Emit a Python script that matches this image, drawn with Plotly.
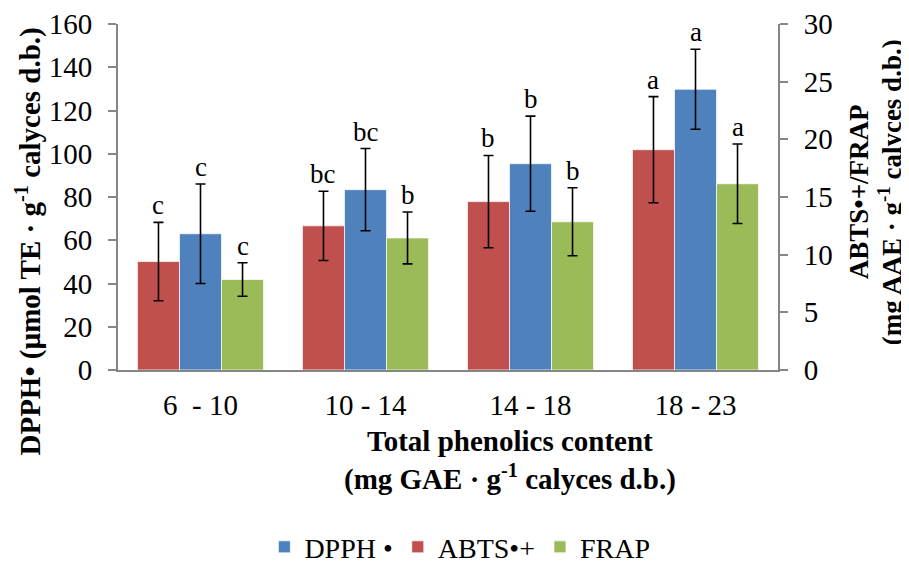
import plotly.graph_objects as go

categories = ["6  - 10", "10 - 14", "14 - 18", "18 - 23"]

dpph = [63.0, 83.4, 95.4, 129.8]
dpph_err = [23.0, 19.0, 22.0, 18.5]
dpph_letters = ["c", "bc", "b", "a"]

abts = [9.4, 12.5, 14.6, 19.1]
abts_err = [3.4, 3.0, 4.0, 4.6]
abts_letters = ["c", "bc", "b", "a"]

frap = [7.85, 11.45, 12.85, 16.15]
frap_err = [1.45, 2.25, 2.95, 3.45]
frap_letters = ["c", "b", "b", "a"]

FONT = "Liberation Serif"
RED = "#C0504D"
BLUE = "#4F81BD"
GREEN = "#9BBB59"
AXIS = "#868686"
FS = 29

bargap = 0.236
bw = (1 - bargap) / 3

fig = go.Figure()

def add_bar(name, vals, errs, color, yaxis, og, rank):
    fig.add_trace(go.Bar(
        name=name, x=categories, y=vals, yaxis=yaxis,
        offsetgroup=og, legendrank=rank,
        marker=dict(color=color, line=dict(color="rgba(255,255,255,0.7)", width=1)),
        error_y=dict(type="data", array=errs, visible=True, color="black",
                     thickness=1.6, width=5),
    ))

add_bar("ABTS•+", abts, abts_err, RED, "y2", "1", 2)
add_bar("DPPH •", dpph, dpph_err, BLUE, "y", "2", 1)
add_bar("FRAP", frap, frap_err, GREEN, "y2", "3", 3)

annotations = []
for series, errs, letters, off, yref in [
    (abts, abts_err, abts_letters, -bw, "y2"),
    (dpph, dpph_err, dpph_letters, 0.0, "y"),
    (frap, frap_err, frap_letters, bw, "y2"),
]:
    for i, (v, e, l) in enumerate(zip(series, errs, letters)):
        annotations.append(dict(
            x=i + off, y=v + e, xref="x", yref=yref, text=l, showarrow=False,
            yanchor="bottom", yshift=0, font=dict(family=FONT, size=27, color="black"),
        ))

def title(text, x, y, angle=0, size=FS):
    annotations.append(dict(
        x=x, y=y, xref="paper", yref="paper", showarrow=False, textangle=angle,
        text="<b>" + text + "</b>", font=dict(family=FONT, size=size, color="black"),
        xanchor="center", yanchor="middle",
    ))

title("Total phenolics content", 0.594, -0.205)
title("(mg GAE · g<sup>-1</sup> calyces d.b.)", 0.594, -0.31)
title("DPPH• (µmol TE · g<sup>-1</sup> calyces d.b.)", -0.136, 0.372, -90)
title("ABTS•+/FRAP", 1.123, 0.514, -90, 27)
title("(mg AAE · g<sup>-1</sup> calyces d.b.)", 1.170, 0.514, -90, 27)

# the page body adds an 8 px offset; margins compensate so the plot area sits at
# x 118..778, y 24..370 on screen
fig.update_layout(
    width=909, height=564,
    margin=dict(l=110, r=139, t=16, b=202, autoexpand=False),
    paper_bgcolor="white", plot_bgcolor="white",
    barmode="group", bargap=bargap, bargroupgap=0,
    font=dict(family=FONT, size=FS, color="black"),
    showlegend=True,
    legend=dict(orientation="h", x=0.518, xanchor="center", y=-0.512, yanchor="middle",
                font=dict(family=FONT, size=28, color="black"),
                itemwidth=30, tracegroupgap=0),
    xaxis=dict(showline=True, linecolor=AXIS, linewidth=2, ticks="", automargin=False,
               ticklabelstandoff=8,
               tickfont=dict(family=FONT, size=FS, color="black"), showgrid=False),
    yaxis=dict(range=[0, 160], dtick=20, showline=True, linecolor=AXIS, linewidth=2,
               ticks="outside", tickcolor=AXIS, ticklen=8, tickwidth=1.5, showgrid=False,
               ticklabelstandoff=10, automargin=False,
               zeroline=False, tickfont=dict(family=FONT, size=FS, color="black")),
    yaxis2=dict(range=[0, 30], dtick=5, overlaying="y", side="right", showline=True,
                linecolor=AXIS, linewidth=2, ticks="outside", tickcolor=AXIS, ticklen=8,
                tickwidth=1.5, showgrid=False, zeroline=False, ticklabelstandoff=10,
                automargin=False,
                tickfont=dict(family=FONT, size=FS, color="black")),
    annotations=annotations,
)

fig.write_html("out.html")
